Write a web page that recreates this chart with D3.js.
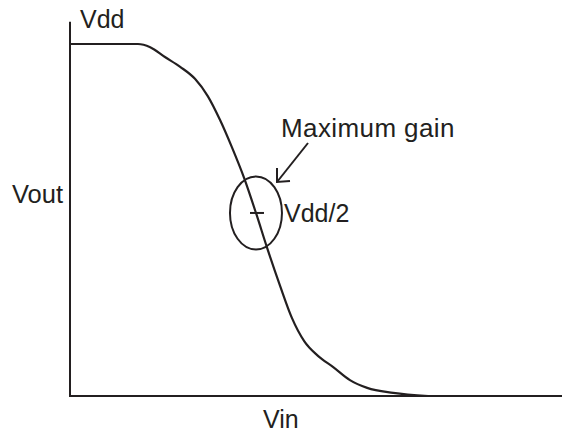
<!DOCTYPE html>
<html><head><meta charset="utf-8">
<script src="https://cdn.jsdelivr.net/npm/d3@7"></script>
<style>body{margin:0;background:#fff}svg{display:block}text{font-family:"Liberation Sans",Arial,sans-serif;fill:#231f20}</style>
</head><body>
<script>
// Transfer curve: Vin (0..100 % of axis) vs Vout (0..100 % of Vdd)
const vin  = [0, 13.8, 16.3, 19.3, 22.4, 25.4, 28.0, 30.5, 32.9, 35.4, 37.8, 40.2, 42.7, 45.1, 47.6, 50.4, 53.5, 56.9, 60.4, 65.7, 72.8];
const vout = [100, 100, 99.1, 96.3, 93.5, 90.1, 85.2, 78.4, 70.7, 61.9, 52.0, 41.5, 31.3, 22.2, 15.6, 11.4, 8.2, 4.5, 2.3, 0.9, 0];
const axisLabels = {x: "Vin", y: "Vout", top: "Vdd"};
const annotation = {gain: "Maximum gain", mid: "Vdd/2", midVin: 37.8, midVout: 52};

const W = 562, H = 432;
const x = d3.scaleLinear().domain([0, 100]).range([70, 562]);
const y = d3.scaleLinear().domain([0, 100]).range([396, 44]);
const ink = "#231f20";

const svg = d3.select("body").append("svg").attr("width", W).attr("height", H);

// axes
svg.append("line").attr("x1", x(0)).attr("x2", x(0)).attr("y1", y(106.3)).attr("y2", y(0) + 1)
  .attr("stroke", ink).attr("stroke-width", 2);
svg.append("line").attr("x1", x(0)).attr("x2", x(100)).attr("y1", y(0)).attr("y2", y(0))
  .attr("stroke", ink).attr("stroke-width", 2);

// curve
const pts = vin.map((v, i) => [v, vout[i]]);
svg.append("path").datum(pts)
  .attr("d", d3.line().x(d => x(d[0])).y(d => y(d[1])).curve(d3.curveMonotoneX))
  .attr("fill", "none").attr("stroke", ink).attr("stroke-width", 2.2);

// labels
const fs = 25;
svg.append("text").attr("x", 80).attr("y", 28).attr("font-size", fs).text(axisLabels.top);
svg.append("text").attr("x", 12).attr("y", 203).attr("font-size", 25.5).text(axisLabels.y);
svg.append("text").attr("x", 263).attr("y", 428).attr("font-size", fs).text(axisLabels.x);

// ellipse + tick at Vdd/2
const cx = x(annotation.midVin), cy = y(annotation.midVout);
svg.append("ellipse").attr("cx", cx).attr("cy", cy).attr("rx", 26).attr("ry", 36.5)
  .attr("fill", "none").attr("stroke", ink).attr("stroke-width", 2);
svg.append("line").attr("x1", cx - 6).attr("x2", cx + 8).attr("y1", cy).attr("y2", cy)
  .attr("stroke", ink).attr("stroke-width", 2);
svg.append("text").attr("x", 284).attr("y", 222).attr("font-size", fs).text(annotation.mid);

// arrow
svg.append("line").attr("x1", 308).attr("y1", 143).attr("x2", 277).attr("y2", 182)
  .attr("stroke", ink).attr("stroke-width", 2);
svg.append("path").attr("d", "M277,168 L277,182 L290,181")
  .attr("fill", "none").attr("stroke", ink).attr("stroke-width", 2);
svg.append("text").attr("x", 281).attr("y", 137).attr("font-size", 26).attr("letter-spacing", 0.4).text(annotation.gain);
</script>
</body></html>
